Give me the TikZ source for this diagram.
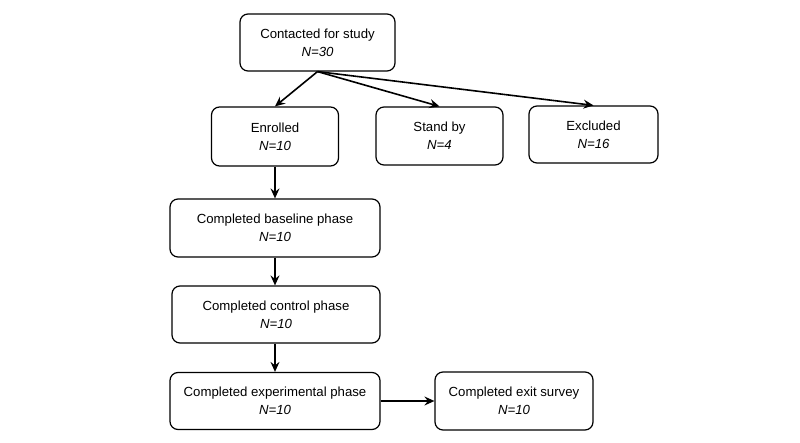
\documentclass[tikz,border=0pt]{standalone}
\usepackage{fontspec}
\setmainfont{Liberation Sans}
\usetikzlibrary{arrows.meta}
\begin{document}
\begin{tikzpicture}[x=1pt,y=-1pt,
  box/.style={draw=black,line width=1.2pt,rounded corners=8pt,align=center,inner sep=0pt,
    font=\fontsize{13.2}{18}\selectfont,fill=white},
  conn/.style={line width=1.6pt,-{Stealth[length=10pt,width=9pt,inset=3.5pt]}}]
\useasboundingbox[fill=white] (0,0) rectangle (800,443);
\node[box,minimum width=155pt,minimum height=57pt] (contact) at (317.5,42.5) {Contacted for study\\\textit{N=30}};
\node[box,minimum width=127pt,minimum height=59pt] (enrol) at (275,136.5) {Enrolled\\\textit{N=10}};
\node[box,minimum width=127pt,minimum height=58pt] (stand) at (439.5,136) {Stand by\\\textit{N=4}};
\node[box,minimum width=129pt,minimum height=57pt] (excl) at (593.5,134.5) {Excluded\\\textit{N=16}};
\node[box,minimum width=210pt,minimum height=58pt] (base) at (275,228) {Completed baseline phase\\\textit{N=10}};
\node[box,minimum width=208pt,minimum height=57pt] (ctrl) at (276,314.5) {Completed control phase\\\textit{N=10}};
\node[box,minimum width=210pt,minimum height=57pt] (expe) at (275,401) {Completed experimental phase\\\textit{N=10}};
\node[box,minimum width=158pt,minimum height=58pt] (exit) at (514,401) {Completed exit survey\\\textit{N=10}};
\draw[conn] (contact.south) -- (enrol.north);
\draw[conn] (contact.south) -- (stand.north);
\draw[conn] (contact.south) -- (excl.north);
\draw[conn] (enrol.south) -- (enrol.south |- base.north);
\draw[conn] (base.south) -- (base.south |- ctrl.north);
\draw[conn] (base.south |- ctrl.south) -- (base.south |- expe.north);
\draw[conn] (expe.east) -- (exit.west |- expe.east);
\end{tikzpicture}
\end{document}
